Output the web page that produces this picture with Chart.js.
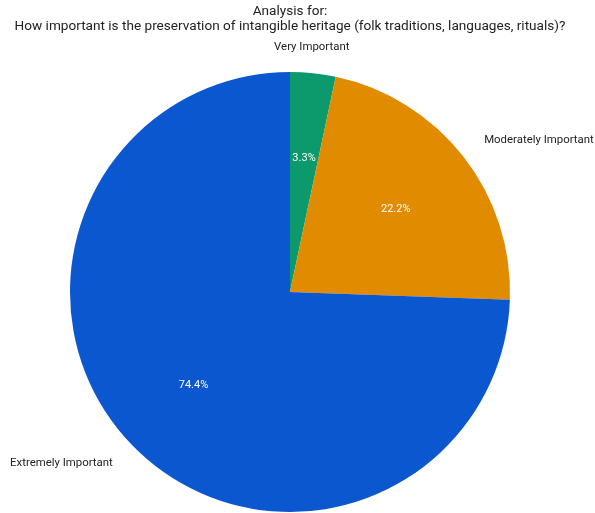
<!DOCTYPE html>
<html>
<head>
<meta charset="utf-8">
<script src="https://cdn.jsdelivr.net/npm/chart.js@4"></script>
<style>
  html, body { margin: 0; padding: 0; background: #fff; }
  #wrap { width: 595px; height: 513px; }
</style>
</head>
<body>
<div id="wrap"><canvas id="myChart" width="595" height="513"></canvas></div>
<script>
const titleLines = ['Analysis for:', 'How important is the preservation of intangible heritage (folk traditions, languages, rituals)?'];
const categories = ['Very Important', 'Moderately Important', 'Extremely Important'];
const responses = [3, 20, 67];
const sliceColors = ['#0c9a6c', '#e08b00', '#0b57d0'];

const FONT = 'Roboto, "Open Sans", sans-serif';

// title, percentages inside the slices and category names outside
const pieLabels = {
  id: 'pieLabels',
  afterDraw(chart) {
    const ctx = chart.ctx;
    ctx.save();
    ctx.fillStyle = '#222';
    ctx.textAlign = 'center';
    ctx.textBaseline = 'middle';
    ctx.font = '13.6px ' + FONT;
    ctx.fillText(titleLines[0], 290, 12);
    ctx.fillText(titleLines[1], 290, 27);

    const total = responses.reduce((a, b) => a + b, 0);
    const arcs = chart.getDatasetMeta(0).data;
    arcs.forEach((arc, i) => {
      const mid = (arc.startAngle + arc.endAngle) / 2;
      const r = arc.outerRadius;
      const cos = Math.cos(mid), sin = Math.sin(mid);

      ctx.font = '11px ' + FONT;
      ctx.fillStyle = '#fff';
      ctx.textAlign = 'center';
      const pct = (responses[i] / total * 100).toFixed(1) + '%';
      ctx.fillText(pct, arc.x + cos * r * 0.61, arc.y + sin * r * 0.61);

      ctx.font = '11.4px ' + FONT;
      ctx.fillStyle = '#222';
      const lx = arc.x + cos * r * 1.12;
      const ly = arc.y + sin * r * 1.12;
      ctx.textAlign = Math.abs(cos) < 0.3 ? 'center' : (cos > 0 ? 'left' : 'right');
      ctx.fillText(categories[i], lx - (Math.abs(cos) < 0.3 ? 4 : 0), ly);
    });
    ctx.restore();
  }
};

new Chart(document.getElementById('myChart'), {
  type: 'pie',
  data: {
    labels: categories,
    datasets: [{
      data: responses,
      backgroundColor: sliceColors,
      borderWidth: 0
    }]
  },
  options: {
    responsive: false,
    animation: false,
    layout: { padding: { top: 72, bottom: 1, left: 70, right: 85 } },
    plugins: {
      legend: { display: false },
      title: { display: false },
      tooltip: { enabled: false }
    }
  },
  plugins: [pieLabels]
});
</script>
</body>
</html>
